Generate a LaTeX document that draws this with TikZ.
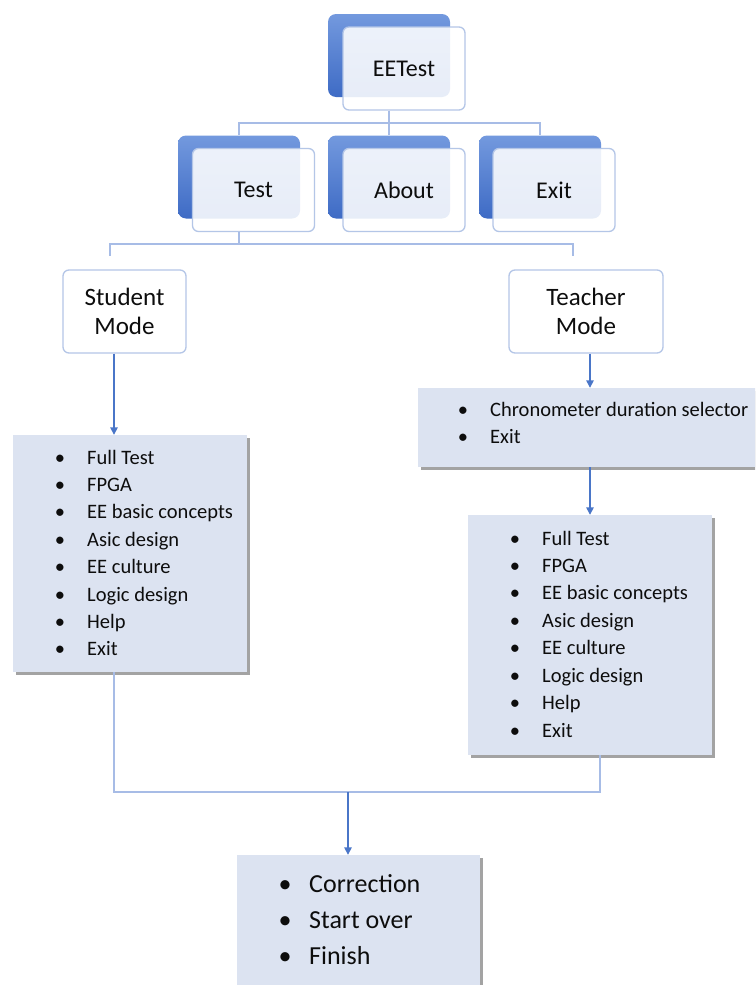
\documentclass[tikz,border=0pt]{standalone}
\usepackage{fontspec}
\setmainfont{Carlito}
\usetikzlibrary{arrows.meta,shadows,calc}
\definecolor{blueA}{HTML}{7399DE}
\definecolor{blueB}{HTML}{3E6BC5}
\definecolor{frontline}{HTML}{B4C6E7}
\definecolor{treeline}{HTML}{A7BCE6}
\definecolor{arrowblue}{HTML}{4A76C8}
\definecolor{listfill}{HTML}{DCE3F1}
\definecolor{ink}{HTML}{0D0D0D}
\tikzset{
  backbox/.style={rounded corners=8pt, top color=blueA, bottom color=blueB, draw=none,
    minimum width=122pt, minimum height=83pt, inner sep=0pt},
  frontbox/.style={rounded corners=6pt, draw=frontline, line width=1.3pt, fill=white,
    fill opacity=0.88, text opacity=1, text=ink, minimum width=122pt, minimum height=83pt,
    inner sep=0pt, font=\fontsize{24}{29}\selectfont},
  modebox/.style={rounded corners=6pt, draw=frontline, line width=1.3pt, fill=white,
    minimum height=83pt, inner sep=0pt, align=center, text=ink,
    font=\fontsize{25}{29}\selectfont},
  listbox/.style={fill=listfill, inner sep=0pt,
    drop shadow={shadow xshift=3pt, shadow yshift=-3pt, opacity=0.6, fill=black!60}},
  itemtext/.style={anchor=base west, inner sep=0pt, text=ink, font=\fontsize{20.5}{24}\selectfont},
  bul/.style={anchor=base, inner sep=0pt, text=ink, font=\fontsize{20.5}{24}\selectfont},
  bigitem/.style={anchor=base west, inner sep=0pt, text=ink, font=\fontsize{26}{30}\selectfont},
  bigbul/.style={anchor=base, inner sep=0pt, text=ink, font=\fontsize{26}{30}\selectfont},
  tree/.style={draw=treeline, line width=1.3pt},
  arrowline/.style={draw=arrowblue, line width=1.4pt, -{Triangle[length=7.5pt,width=7.5pt]}}
}
\begin{document}
\begin{tikzpicture}[x=1pt,y=-1pt]
\useasboundingbox (0,0) rectangle (755,985);
\clip (0,0) rectangle (755,985);
\fill[white] (0,0) rectangle (755,985);

% top level
\node[backbox] (eeb) at (389,55.5) {};
\node[frontbox] (ee) at (404,68.5) {EETest};
% second row
\node[backbox] (testb) at (239,177) {};
\node[frontbox] (test) at (253.5,190) {Test};
\node[backbox] (aboutb) at (389,177) {};
\node[frontbox] (about) at (404,190) {About};
\node[backbox] (exitb) at (540,177) {};
\node[frontbox] (exit) at (554,190) {Exit};

% tree connectors
\coordinate (j1) at (389,123);
\draw[tree] (eeb.center |- ee.south) -- (j1);
\draw[tree] (j1) -| (testb.north);
\draw[tree] (j1) -- (aboutb.north);
\draw[tree] (j1) -| (exitb.north);

% modes
\node[modebox, minimum width=123pt] (smode) at (124.5,311.5) {Student\\Mode};
\node[modebox, minimum width=154pt] (tmode) at (586,311.5) {Teacher\\Mode};

\coordinate (j2) at (239,244);
\coordinate (sdrop) at (110,256);
\coordinate (tdrop) at (573,256);
\draw[tree] (testb.center |- test.south) -- (j2);
\draw[tree] (j2) -| (sdrop);
\draw[tree] (j2) -| (tdrop);

% list boxes
\node[listbox, minimum width=234pt, minimum height=237pt] (slist) at (130,553.5) {};
\node[listbox, minimum width=339pt, minimum height=79pt] (chrono) at (587.5,427.5) {};
\node[listbox, minimum width=244pt, minimum height=240pt] (tlist) at (590,635) {};
\node[listbox, minimum width=243pt, minimum height=135pt] (final) at (358.5,922.5) {};

% student items
\foreach \t [count=\i from 0] in {Full Test, FPGA, EE basic concepts, Asic design, EE culture, Logic design, Help, Exit} {
  \node[bul] (sb\i) at (60,{464+\i*27.4}) {•};
  \node[itemtext] (si\i) at (87,{464+\i*27.4}) {\t};
}
% chronometer items
\foreach \t [count=\i from 0] in {Chronometer duration selector, Exit} {
  \node[bul] (cb\i) at (463,{416.5+\i*26.5}) {•};
  \node[itemtext] (ci\i) at (490,{416.5+\i*26.5}) {\t};
}
% teacher items
\foreach \t [count=\i from 0] in {Full Test, FPGA, EE basic concepts, Asic design, EE culture, Logic design, Help, Exit} {
  \node[bul] (tb\i) at (515,{545+\i*27.45}) {•};
  \node[itemtext] (ti\i) at (542,{545+\i*27.45}) {\t};
}
% final items
\foreach \t [count=\i from 0] in {Correction, Start over, Finish} {
  \node[bigbul] (fb\i) at (285,{892+\i*36}) {•};
  \node[bigitem] (fi\i) at (309,{892+\i*36}) {\t};
}

% arrows
\coordinate (sa) at (114,0);
\coordinate (ta) at (600,0);
\coordinate (fa) at (348,792);
\draw[arrowline] (smode.south -| sa) -- (slist.north -| sa);
\draw[arrowline] (tmode.south -| tlist.north) -- (chrono.north -| tlist.north);
\draw[arrowline] (chrono.south -| tlist.north) -- (tlist.north);
\draw[tree] (slist.south -| sa) |- (fa) -| (tlist.south -| ta);
\draw[arrowline] (fa) -- (final.north -| fa);
\end{tikzpicture}
\end{document}
